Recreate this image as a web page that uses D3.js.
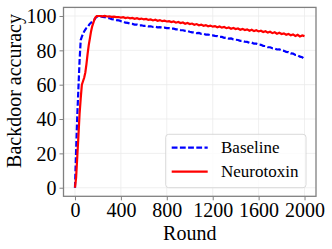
<!DOCTYPE html>
<html>
<head>
<meta charset="utf-8">
<script src="https://cdn.jsdelivr.net/npm/d3@7"></script>
<style>
  body { margin: 0; background: #fff; }
  svg text { font-family: "Liberation Serif", "Times New Roman", serif; fill: #000; }
</style>
</head>
<body>
<main></main>
<script>
// rounds: 0..200 every 10, then 220..2000 every 20
let early = [0, 10, 20, 30, 40, 50, 60, 70, 80, 90, 100, 110, 120, 130, 140, 150, 160, 170, 180, 190, 200]
let late = [220, 240, 260, 280, 300, 320, 340, 360, 380, 400,
    420, 440, 460, 480, 500, 520, 540, 560, 580, 600,
    620, 640, 660, 680, 700, 720, 740, 760, 780, 800,
    820, 840, 860, 880, 900, 920, 940, 960, 980, 1000,
    1020, 1040, 1060, 1080, 1100, 1120, 1140, 1160, 1180, 1200,
    1220, 1240, 1260, 1280, 1300, 1320, 1340, 1360, 1380, 1400,
    1420, 1440, 1460, 1480, 1500, 1520, 1540, 1560, 1580, 1600,
    1620, 1640, 1660, 1680, 1700, 1720, 1740, 1760, 1780, 1800,
    1820, 1840, 1860, 1880, 1900, 1920, 1940, 1960, 1980, 2000]
let rounds = early.concat(late)

let baseline = [0, 22, 42, 58, 74, 86, 88, 89.5, 91, 92, 93, 93.5, 94.5, 95.5, 96, 97, 97.5, 98, 99, 99.5, 100,
    99.9, 99.5, 99.3, 98.8, 98.7, 98.2, 98.0, 97.6, 97.5, 97.0,
    96.7, 96.1, 96.0, 95.5, 95.4, 95.0, 95.0, 94.5, 94.6, 94.2,
    94.3, 93.9, 94.0, 93.6, 93.7, 93.4, 93.5, 93.1, 93.2, 92.9,
    92.9, 92.6, 92.6, 92.2, 92.2, 91.8, 91.7, 91.3, 91.2, 90.8,
    90.5, 90.4, 90.0, 90.1, 89.6, 89.6, 89.2, 89.2, 88.8, 88.7,
    88.4, 88.3, 87.8, 87.8, 87.3, 87.4, 86.8, 86.9, 86.4, 86.2,
    86.0, 85.5, 85.5, 85.0, 84.9, 84.4, 84.5, 83.9, 83.9, 83.4,
    83.2, 82.6, 82.5, 81.9, 81.8, 81.2, 81.1, 80.5, 80.6, 79.9,
    79.7, 79.1, 79.0, 78.2, 78.1, 77.3, 77.2, 76.3, 76.0, 74.8]

let neurotoxin = [0, 6, 18, 30, 43, 52, 60, 62, 64, 67, 72, 78, 83, 87, 91, 94, 96, 98, 99.3, 100, 100,
    100, 99.8, 100, 99.7, 99.8, 99.5, 99.6, 99.3, 99.4, 99.1,
    99.3, 98.8, 99.1, 98.6, 98.9, 98.4, 98.7, 98.2, 98.5, 98.0,
    98.3, 97.7, 98.0, 97.4, 97.8, 97.2, 97.6, 97.0, 97.3, 96.8,
    97.0, 96.5, 96.8, 96.1, 96.5, 95.9, 96.2, 95.5, 95.9, 95.3,
    95.6, 94.9, 95.3, 94.6, 95.0, 94.3, 94.7, 94.0, 94.4, 93.8,
    94.1, 93.4, 93.9, 93.2, 93.6, 92.9, 93.3, 92.6, 93.0, 92.4,
    92.7, 92.0, 92.5, 91.8, 92.2, 91.4, 92.0, 91.2, 91.7, 91.0,
    91.4, 90.7, 91.1, 90.3, 90.8, 90.0, 90.5, 89.7, 90.2, 89.5,
    89.9, 89.1, 89.6, 88.8, 89.3, 88.4, 89.0, 88.1, 88.7, 88.3]

let xTicks = [0, 400, 800, 1200, 1600, 2000]
let yTicks = [0, 20, 40, 60, 80, 100]
let seriesNames = ["Baseline", "Neurotoxin"]

let mLeft = 63.5, mRight = 316, mTop = 7.4, mBottom = 196.3

let svg = d3.select('main').append('svg')
    .attr('width', 332)
    .attr('height', 249)

let x = d3.scaleLinear().domain([-100, 2100]).range([mLeft, mRight])
let y = d3.scaleLinear().domain([-5, 105]).range([mBottom, mTop])

// grid
svg.append('g').selectAll('line').data(xTicks).join('line')
    .attr('x1', d => x(d)).attr('x2', d => x(d))
    .attr('y1', mTop).attr('y2', mBottom)
    .attr('stroke', '#ebebeb').attr('stroke-width', 0.8)
svg.append('g').selectAll('line').data(yTicks).join('line')
    .attr('x1', mLeft).attr('x2', mRight)
    .attr('y1', d => y(d)).attr('y2', d => y(d))
    .attr('stroke', '#ebebeb').attr('stroke-width', 0.8)

// axes
let xAxis = svg.append('g')
    .attr('transform', `translate(0,${mBottom})`)
    .call(d3.axisBottom(x).tickValues(xTicks).tickFormat(d3.format('d')).tickSize(4).tickPadding(3))
let yAxis = svg.append('g')
    .attr('transform', `translate(${mLeft},0)`)
    .call(d3.axisLeft(y).tickValues(yTicks).tickFormat(d3.format('d')).tickSize(4).tickPadding(3))

for (let ax of [xAxis, yAxis]) {
    ax.select('.domain').remove()
    ax.selectAll('line').attr('stroke', '#808080').attr('stroke-width', 1)
    ax.selectAll('text').style('font-size', '20px').attr('fill', '#000')
}
yAxis.selectAll('text').attr('dy', '0.34em')

let line = d3.line()
    .x((d, i) => x(rounds[i]))
    .y(d => y(d))

svg.append('path')
    .datum(baseline)
    .attr('d', line)
    .style('fill', 'none')
    .style('stroke', '#0000ff')
    .style('stroke-width', 2.2)
    .style('stroke-dasharray', '5.8,2.4')

svg.append('path')
    .datum(neurotoxin)
    .attr('d', line)
    .style('fill', 'none')
    .style('stroke', '#ff0000')
    .style('stroke-width', 2.2)

// frame
svg.append('rect')
    .attr('x', mLeft).attr('y', mTop)
    .attr('width', mRight - mLeft).attr('height', mBottom - mTop)
    .attr('fill', 'none')
    .attr('stroke', '#808080')
    .attr('stroke-width', 1.3)

// legend
let legend = svg.append('g')
legend.append('rect')
    .attr('x', 165.7).attr('y', 134.3)
    .attr('width', 140.3).attr('height', 53.4)
    .attr('rx', 3)
    .attr('fill', 'rgba(255,255,255,0.8)')
    .attr('stroke', '#d0d0d0')
    .attr('stroke-width', 0.8)

let legendStyles = [
    { color: '#0000ff', dash: '5.8,2.4' },
    { color: '#ff0000', dash: null }
]
seriesNames.forEach((name, i) => {
    let ly = 147.7 + i * 24
    legend.append('line')
        .attr('x1', 171.7).attr('x2', 207.7)
        .attr('y1', ly).attr('y2', ly)
        .style('stroke', legendStyles[i].color)
        .style('stroke-width', 2.2)
        .style('stroke-dasharray', legendStyles[i].dash)
    legend.append('text')
        .attr('x', 221).attr('y', ly)
        .attr('dy', '0.34em')
        .style('font-size', '17px')
        .text(name)
})

// axis labels
svg.append('text')
    .attr('x', (mLeft + mRight) / 2).attr('y', 240)
    .attr('text-anchor', 'middle')
    .style('font-size', '20px')
    .text('Round')

svg.append('text')
    .attr('transform', 'translate(21,91) rotate(-90)')
    .attr('text-anchor', 'middle')
    .style('font-size', '20px')
    .text('Backdoor accuracy')
</script>
</body>
</html>
